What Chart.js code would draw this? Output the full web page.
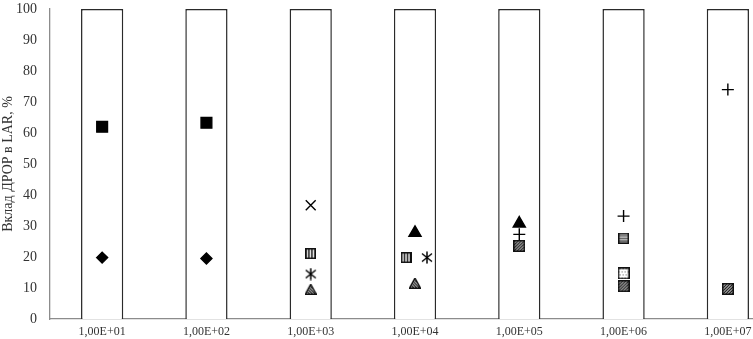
<!DOCTYPE html>
<html>
<head>
<meta charset="utf-8">
<script src="https://cdn.jsdelivr.net/npm/chart.js@4/dist/chart.umd.min.js"></script>
<style>
  body { margin: 0; overflow: hidden; background: #fff; }
  #wrap { width: 789px; height: 339px; }
</style>
</head>
<body>
<div id="wrap"><canvas id="myChart" width="789" height="339"></canvas></div>
<script>
// categories and values
const categories = ['1,00E+01', '1,00E+02', '1,00E+03', '1,00E+04', '1,00E+05', '1,00E+06', '1,00E+07'];
const barTop = [100, 100, 100, 100, 100, 100, 100];
const yTicks = [0, 10, 20, 30, 40, 50, 60, 70, 80, 90, 100];

const squareBlack = [62, 63.3, null, null, null, null, null];
const diamond     = [19.8, 19.5, null, null, null, null, null];
const crossX      = [null, null, 36.7, null, null, null, null];
const stripeV     = [null, null, 21.1, 19.8, null, null, null];
const asterisk    = [null, null, 14.5, 19.8, null, null, null];
const hatchTri    = [null, null, 9.6, 11.6, null, null, null];
const triangle    = [null, null, null, 27.8, 30.8, null, null];
const plus        = [null, null, null, null, 27.3, 33.2, 74];
const hatchSq     = [null, null, null, null, 23.6, 10.6, 9.7];
const stripeH     = [null, null, null, null, null, 26.1, null];
const dotSq       = [null, null, null, null, null, 14.7, null];

// small sideways shifts (in category units) where markers sit next to each other
const stripeVShift  = [0, 0, 0, -0.085, 0, 0, 0];
const asteriskShift = [0, 0, 0, 0.115, 0, 0, 0];

function pts(vals, shift) {
    let out = [];
    for (let i = 0; i < vals.length; i++) {
        if (vals[i] == null) continue;
        out.push({ x: i + (shift ? shift[i] : 0), y: vals[i] });
    }
    return out;
}

function icon(w, h, draw) {
    let c = document.createElement('canvas');
    c.width = w; c.height = h;
    let g = c.getContext('2d');
    draw(g, w, h);
    return c;
}

function boxed(g, w, h) {
    g.fillStyle = '#fff';
    g.fillRect(0, 0, w, h);
}

const icoStripeV = icon(11, 11, (g, w, h) => {
    boxed(g, w, h);
    g.fillStyle = '#111';
    for (let x = 0; x < w; x += 3) g.fillRect(x, 0, 1.5, h);
    g.strokeStyle = '#111'; g.lineWidth = 1.5;
    g.strokeRect(0.75, 0.75, w - 1.5, h - 1.5);
});
const icoStripeH = icon(11, 11, (g, w, h) => {
    boxed(g, w, h);
    g.fillStyle = '#333';
    for (let y = 0; y < h; y += 2.5) g.fillRect(0, y, w, 1.3);
    g.strokeStyle = '#111'; g.lineWidth = 1.5;
    g.strokeRect(0.75, 0.75, w - 1.5, h - 1.5);
});
const icoDot = icon(12, 12, (g, w, h) => {
    boxed(g, w, h);
    g.fillStyle = '#555';
    for (let y = 1; y < h; y += 3) for (let x = (y % 2) + 1; x < w; x += 3) g.fillRect(x, y, 1, 1);
    g.strokeStyle = '#111'; g.lineWidth = 1.5;
    g.strokeRect(0.75, 0.75, w - 1.5, h - 1.5);
});
const icoHatchSq = icon(12, 12, (g, w, h) => {
    boxed(g, w, h);
    g.strokeStyle = '#111'; g.lineWidth = 1.3;
    for (let k = -h; k < w + h; k += 3) {
        g.beginPath(); g.moveTo(k, h); g.lineTo(k + h, 0); g.stroke();
    }
    g.lineWidth = 1.5;
    g.strokeRect(0.75, 0.75, w - 1.5, h - 1.5);
});
const icoHatchTri = icon(12, 11, (g, w, h) => {
    g.beginPath();
    g.moveTo(w / 2, 0.5); g.lineTo(w - 0.5, h - 0.5); g.lineTo(0.5, h - 0.5); g.closePath();
    g.save(); g.clip();
    g.fillStyle = '#fff'; g.fillRect(0, 0, w, h);
    g.strokeStyle = '#111'; g.lineWidth = 1.2;
    for (let k = -h; k < w + h; k += 2.8) {
        g.beginPath(); g.moveTo(k, 0); g.lineTo(k + h, h); g.stroke();
    }
    g.restore();
    g.strokeStyle = '#111'; g.lineWidth = 1.4;
    g.beginPath();
    g.moveTo(w / 2, 0.5); g.lineTo(w - 0.5, h - 0.5); g.lineTo(0.5, h - 0.5); g.closePath();
    g.stroke();
});
const icoAsterisk = icon(12, 13, (g, w, h) => {
    g.strokeStyle = '#000'; g.lineWidth = 1.5;
    g.beginPath();
    g.moveTo(w / 2, 0.5); g.lineTo(w / 2, h - 0.5);
    g.moveTo(1, 2.5); g.lineTo(w - 1, h - 2.5);
    g.moveTo(w - 1, 2.5); g.lineTo(1, h - 2.5);
    g.stroke();
});

function markers(vals, style, radius, shift, filled) {
    return {
        type: 'line',
        xAxisID: 'x2',
        data: pts(vals, shift),
        showLine: false,
        pointStyle: style,
        pointRadius: radius,
        pointHoverRadius: radius,
        pointBackgroundColor: filled ? '#000' : 'rgba(0,0,0,0)',
        pointBorderColor: '#000',
        pointBorderWidth: 1.4
    };
}

const ctx = document.getElementById('myChart');
new Chart(ctx, {
    data: {
        labels: categories,
        datasets: [
            markers(squareBlack, 'rect', 7.6, null, true),
            markers(diamond, 'rectRot', 5.5, null, true),
            markers(crossX, 'crossRot', 7, null, false),
            markers(stripeV, icoStripeV, 6, stripeVShift, false),
            markers(asterisk, icoAsterisk, 6, asteriskShift, false),
            markers(hatchTri, icoHatchTri, 6, null, false),
            markers(triangle, 'triangle', 7, null, true),
            markers(plus, 'cross', 6, null, false),
            markers(hatchSq, icoHatchSq, 6, null, false),
            markers(stripeH, icoStripeH, 6, null, false),
            markers(dotSq, icoDot, 6, null, false),
            {
                type: 'bar',
                data: barTop,
                grouped: false,
                backgroundColor: '#fff',
                borderColor: '#2a2a2a',
                borderWidth: 1.5,
                barPercentage: 0.81,
                categoryPercentage: 0.5
            }
        ]
    },
    options: {
        responsive: false,
        animation: false,
        events: [],
        layout: { padding: { top: 0, right: 1, left: 0, bottom: 0 } },
        plugins: { legend: { display: false }, tooltip: { enabled: false } },
        scales: {
            x: {
                type: 'category',
                offset: true,
                grid: { display: false, drawTicks: false },
                border: { display: true, color: '#8c8c8c', width: 1.3 },
                ticks: { color: '#333', font: { family: 'Liberation Serif', size: 12 }, padding: 6, maxRotation: 0 },
                afterFit: s => { s.height = 20; }
            },
            x2: {
                type: 'linear',
                display: false,
                min: -0.5,
                max: 6.5
            },
            y: {
                min: 0,
                max: 100,
                afterBuildTicks: s => { s.ticks = yTicks.map(v => ({ value: v })); },
                grid: { display: false, drawTicks: true, tickLength: 13 },
                border: { display: true, color: '#8c8c8c', width: 1.3 },
                ticks: { color: '#333', font: { family: 'Liberation Serif', size: 14 }, padding: 0 },
                title: {
                    display: true,
                    text: 'Вклад ДРОР в LAR, %',
                    color: '#333',
                    font: { family: 'Liberation Serif', size: 14 },
                    padding: { top: 0, bottom: 0 }
                },
                afterFit: s => { s.width = 50; s.paddingTop = 6; s.paddingBottom = 0; }
            }
        }
    }
});
</script>
</body>
</html>
